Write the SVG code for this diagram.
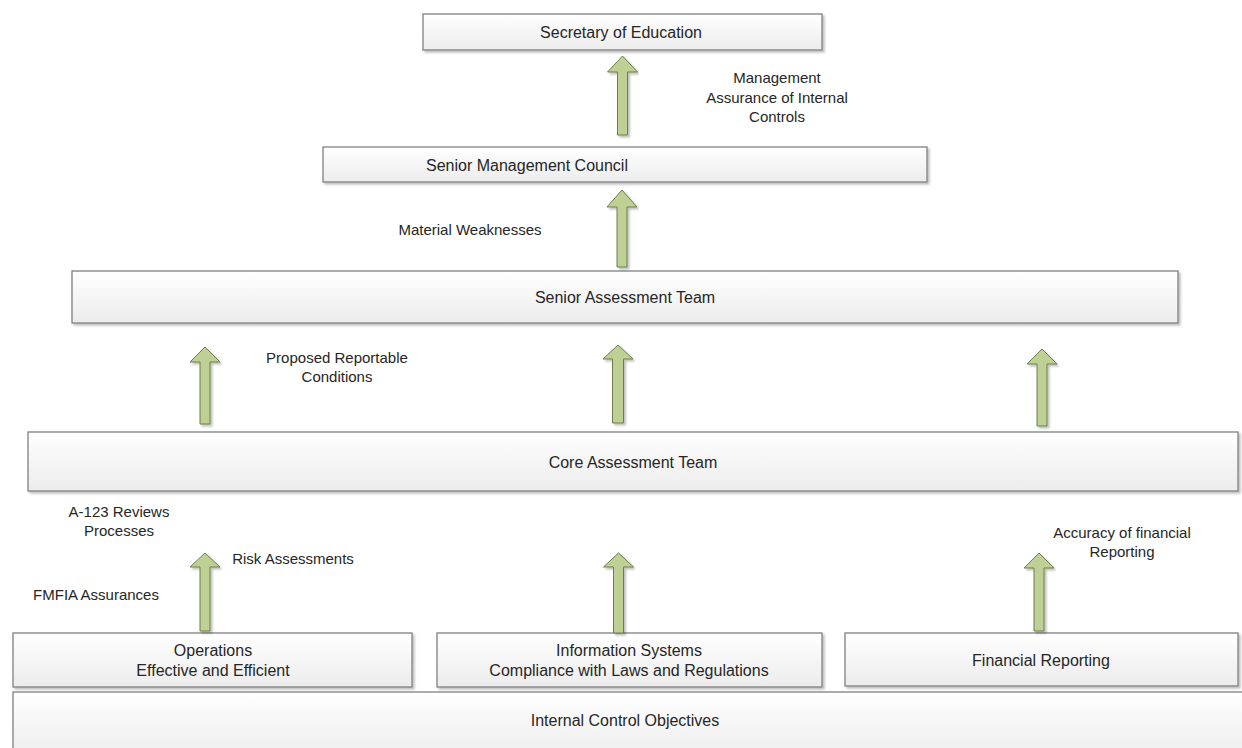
<svg xmlns="http://www.w3.org/2000/svg" width="1242" height="748" viewBox="0 0 1242 748">
<defs>
<linearGradient id="boxg" x1="0" y1="0" x2="0" y2="1">
<stop offset="0" stop-color="#ffffff"/>
<stop offset="1" stop-color="#ececec"/>
</linearGradient>
<filter id="sh" x="-5%" y="-20%" width="110%" height="150%">
<feDropShadow dx="2" dy="2" stdDeviation="1" flood-color="#000" flood-opacity="0.25"/>
</filter>
</defs>
<style>
.box{fill:url(#boxg);stroke:#808080;stroke-width:1.3;filter:url(#sh)}
.t{font-family:"Liberation Sans",Arial,sans-serif;font-size:16px;fill:#262626;text-anchor:middle}
.lbl{font-family:"Liberation Sans",Arial,sans-serif;font-size:15px;fill:#262626;text-anchor:middle}
.arr{fill:#bfd094;stroke:#6f7d4c;stroke-width:1;filter:url(#sh)}
</style>
<rect width="1242" height="748" fill="#ffffff"/>

<g id="secretary">
<rect class="box" x="423" y="14" width="399" height="36"/>
<text class="t" x="621" y="37.5">Secretary of Education</text>
</g>
<g id="smc">
<rect class="box" x="323" y="147" width="604" height="35"/>
<text class="t" x="527" y="170.5">Senior Management Council</text>
</g>
<g id="sat">
<rect class="box" x="72" y="271" width="1106" height="52"/>
<text class="t" x="625" y="302.5">Senior Assessment Team</text>
</g>
<g id="cat">
<rect class="box" x="28" y="432" width="1210" height="59"/>
<text class="t" x="633" y="467.5">Core Assessment Team</text>
</g>
<g id="operations">
<rect class="box" x="13" y="633" width="399" height="54"/>
<text class="t" x="213" y="655.5">Operations</text>
<text class="t" x="213" y="675.5">Effective and Efficient</text>
</g>
<g id="infosys">
<rect class="box" x="437" y="633" width="385" height="54"/>
<text class="t" x="629" y="655.5">Information Systems</text>
<text class="t" x="629" y="675.5">Compliance with Laws and Regulations</text>
</g>
<g id="finrep">
<rect class="box" x="845" y="633" width="393" height="53"/>
<text class="t" x="1041" y="665.5">Financial Reporting</text>
</g>
<g id="ico">
<rect class="box" x="13" y="692" width="1240" height="70"/>
<text class="t" x="625" y="725.5">Internal Control Objectives</text>
</g>

<g id="connectors">
<path class="arr" d="M622.5,56 L637.5,72 L627.5,72 L627.5,135 L617.5,135 L617.5,72 L607.5,72 Z"/>
<path class="arr" d="M622,190 L637,207 L627,207 L627,267 L617,267 L617,207 L607,207 Z"/>
<path class="arr" d="M205,347 L220,362 L210,362 L210,424 L200,424 L200,362 L190,362 Z"/>
<path class="arr" d="M618,345 L633,359 L623.5,359 L623.5,423 L612.5,423 L612.5,359 L603,359 Z"/>
<path class="arr" d="M1042,349 L1057,364 L1047,364 L1047,426 L1037,426 L1037,364 L1027,364 Z"/>
<path class="arr" d="M205,553 L220,567 L210,567 L210,631 L200,631 L200,567 L190,567 Z"/>
<path class="arr" d="M618.5,553 L633.5,567 L623.5,567 L623.5,633 L613.5,633 L613.5,567 L603.5,567 Z"/>
<path class="arr" d="M1039,553 L1054,568 L1044,568 L1044,631 L1034,631 L1034,568 L1024,568 Z"/>
</g>

<g id="labels">
<text class="lbl" x="777" y="83">Management</text>
<text class="lbl" x="777" y="103">Assurance of Internal</text>
<text class="lbl" x="777" y="122">Controls</text>
<text class="lbl" x="470" y="235">Material Weaknesses</text>
<text class="lbl" x="337" y="363">Proposed Reportable</text>
<text class="lbl" x="337" y="382">Conditions</text>
<text class="lbl" x="119" y="517">A-123 Reviews</text>
<text class="lbl" x="119" y="536">Processes</text>
<text class="lbl" x="293" y="564">Risk Assessments</text>
<text class="lbl" x="96" y="600">FMFIA Assurances</text>
<text class="lbl" x="1122" y="538">Accuracy of financial</text>
<text class="lbl" x="1122" y="557">Reporting</text>
</g>
</svg>
